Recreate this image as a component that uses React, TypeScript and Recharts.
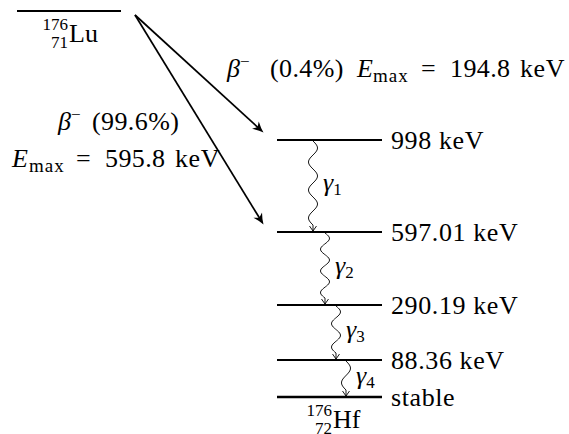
import React from "react";
import { ComposedChart, XAxis, YAxis, ReferenceLine, ReferenceDot } from "recharts";

const FONT = "'Liberation Serif', 'DejaVu Serif', serif";
const TXT: React.CSSProperties = { fontFamily: FONT };

// decay scheme of 176Lu -> 176Hf (diagram units: x right, y down)
const parentRow = 11;
const parentSpan = [17, 121];
const levelText = ["998 keV", "597.01 keV", "290.19 keV", "88.36 keV", "stable"];
const levelRow = [140, 232, 305, 360, 397];
const levelSpan = [277, 382];

const betaBranch = ["0.4%", "99.6%"];
const betaEmax = ["194.8", "595.8"];
const betaTarget = [0, 1];

const gammaIndex = ["1", "2", "3", "4"];
const gammaColumn = [313, 325, 336, 346];

const betaOrigin = { x: 135, y: 15 };

function betaArrow(p: any) {
  const { x1, y1, x2, y2 } = p;
  const a = Math.atan2(y2 - y1, x2 - x1);
  const c = Math.cos(a);
  const s = Math.sin(a);
  const pt = (u: number, v: number) => `${x2 + u * c - v * s},${y2 + u * s + v * c}`;
  return (
    <g>
      <line x1={x1} y1={y1} x2={x2 - 7 * c} y2={y2 - 7 * s} stroke="#000" strokeWidth={1.7} />
      <path
        d={`M${pt(0, 0)} Q${pt(-5, 1.5)} ${pt(-11, 5)} L${pt(-8, 0)} L${pt(-11, -5)} Q${pt(-5, -1.5)} ${pt(0, 0)} Z`}
        fill="#000"
      />
    </g>
  );
}

function gammaWiggle(p: any) {
  const { x1, y1, x2, y2 } = p;
  const len = y2 - y1;
  const waveLen = len - 6;
  const n = Math.max(1, Math.round(waveLen / 26));
  const lam = waveLen / n;
  let d = `M${x1},${y1}`;
  for (let t = 1; t <= waveLen; t += 1) {
    const f = t / waveLen;
    const xc = x1 + (x2 - x1) * f;
    d += ` L${xc + 4.5 * Math.sin((2 * Math.PI * t) / lam)},${y1 + t}`;
  }
  d += ` L${x2},${y2}`;
  return (
    <g fill="none" stroke="#000" strokeWidth={0.9}>
      <path d={d} />
      <path d={`M${x2 - 3.5},${y2 - 5} L${x2},${y2} L${x2 + 3.5},${y2 - 5}`} />
    </g>
  );
}

function levelLine(width: number) {
  return (p: any) => (
    <line x1={p.x1} y1={p.y1} x2={p.x2} y2={p.y2} stroke="#000" strokeWidth={width} />
  );
}

function isotope(mass: string, z: string, sym: string) {
  return (p: any) => (
    <g fill="#000">
      <text x={p.cx - 1} y={p.cy - 12} fontSize={17} textAnchor="end" style={TXT}>{mass}</text>
      <text x={p.cx - 1} y={p.cy + 6} fontSize={17} textAnchor="end" style={TXT}>{z}</text>
      <text x={p.cx} y={p.cy} fontSize={26} style={TXT}>{sym}</text>
    </g>
  );
}

function levelLabel(txt: string) {
  return (p: any) => (
    <text x={p.cx} y={p.cy + 9} fontSize={26} letterSpacing={0.6} fill="#000" style={TXT}>{txt}</text>
  );
}

function gammaLabel(idx: string) {
  return (p: any) => (
    <text x={p.cx} y={p.cy + 5} fontSize={26} fill="#000" style={TXT}>
      <tspan fontStyle="italic">γ</tspan>
      <tspan fontSize={17} dy={4}>{idx}</tspan>
    </text>
  );
}

function emaxText(val: string, maxAt: number) {
  return (p: any) => (
    <text y={p.cy} fontSize={26} fill="#000" style={TXT}>
      <tspan x={p.cx} fontStyle="italic">E</tspan>
      <tspan x={p.cx + maxAt} y={p.cy + 5} fontSize={19} letterSpacing={1}>max</tspan>
      <tspan x={p.cx + 64} y={p.cy}>=</tspan>
      <tspan x={p.cx + 93} letterSpacing={0.4}>{val}</tspan>
      <tspan x={p.cx + 163} letterSpacing={0.6}>keV</tspan>
    </text>
  );
}

function betaText(branch: string, openAt: number) {
  return (p: any) => (
    <text y={p.cy} fontSize={26} fill="#000" style={TXT}>
      <tspan x={p.cx} fontStyle="italic">β</tspan>
      <tspan x={p.cx + 13} y={p.cy - 10} fontSize={17}>−</tspan>
      <tspan x={p.cx + openAt} y={p.cy} letterSpacing={0.4}>({branch})</tspan>
    </text>
  );
}

export default function App() {
  return (
    <div style={{ position: "absolute", left: 0, top: 0, background: "#fff" }}>
      <ComposedChart width={569} height={434} margin={{ top: 0, right: 0, bottom: 0, left: 0 }}>
        <XAxis type="number" dataKey="x" domain={[0, 569]} hide allowDataOverflow />
        <YAxis type="number" dataKey="y" domain={[0, 434]} reversed hide allowDataOverflow />

        {/* parent level */}
        <ReferenceLine
          ifOverflow="visible"
          segment={[{ x: parentSpan[0], y: parentRow }, { x: parentSpan[1], y: parentRow }]}
          shape={levelLine(2.2)}
        />
        <ReferenceDot ifOverflow="visible" x={69} y={42} r={0} shape={isotope("176", "71", "Lu")} />

        {/* daughter levels */}
        {levelRow.map((row, i) => (
          <ReferenceLine
            key={`lv${i}`}
            ifOverflow="visible"
            segment={[{ x: levelSpan[0], y: row }, { x: levelSpan[1], y: row }]}
            shape={levelLine(i === levelRow.length - 1 ? 2.6 : 2.2)}
          />
        ))}
        {levelRow.map((row, i) => (
          <ReferenceDot
            key={`ll${i}`}
            ifOverflow="visible"
            x={levelSpan[1] + 9}
            y={row}
            r={0}
            shape={levelLabel(levelText[i])}
          />
        ))}
        <ReferenceDot ifOverflow="visible" x={333} y={428} r={0} shape={isotope("176", "72", "Hf")} />

        {/* beta branches */}
        {betaTarget.map((lv, i) => (
          <ReferenceLine
            key={`b${i}`}
            ifOverflow="visible"
            segment={[
              { x: betaOrigin.x, y: betaOrigin.y },
              { x: levelSpan[0] - 13.5, y: levelRow[lv] - 7.5 },
            ]}
            shape={betaArrow}
          />
        ))}
        <ReferenceDot ifOverflow="visible" x={227} y={77} r={0} shape={betaText(betaBranch[0], 43)} />
        <ReferenceDot ifOverflow="visible" x={357} y={77} r={0} shape={emaxText(betaEmax[0], 16)} />
        <ReferenceDot ifOverflow="visible" x={58} y={130} r={0} shape={betaText(betaBranch[1], 34)} />
        <ReferenceDot ifOverflow="visible" x={12} y={167} r={0} shape={emaxText(betaEmax[1], 17)} />

        {/* gamma transitions */}
        {gammaIndex.map((g, i) => (
          <ReferenceLine
            key={`g${i}`}
            ifOverflow="visible"
            segment={[
              { x: gammaColumn[i], y: levelRow[i] + 1 },
              { x: gammaColumn[i], y: levelRow[i + 1] - 1 },
            ]}
            shape={gammaWiggle}
          />
        ))}
        {gammaIndex.map((g, i) => (
          <ReferenceDot
            key={`gl${i}`}
            ifOverflow="visible"
            x={gammaColumn[i] + 10}
            y={(levelRow[i] + levelRow[i + 1]) / 2}
            r={0}
            shape={gammaLabel(g)}
          />
        ))}
      </ComposedChart>
    </div>
  );
}
